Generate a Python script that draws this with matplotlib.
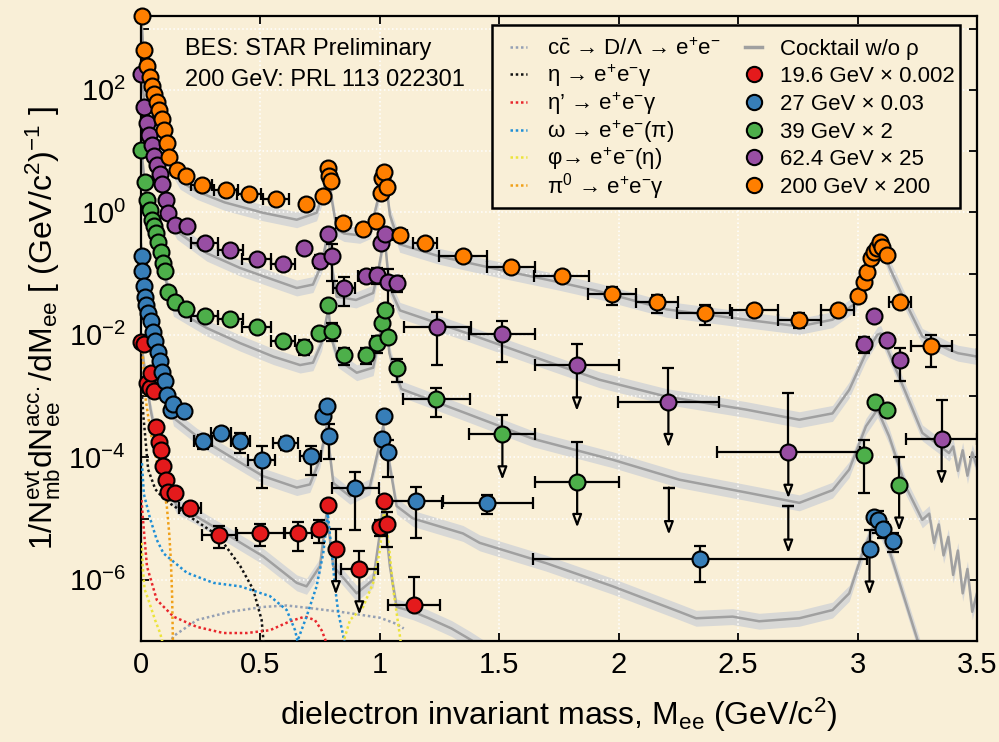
import numpy as np
import matplotlib

matplotlib.use("Agg")
import matplotlib.pyplot as plt
from matplotlib.patches import Rectangle
from matplotlib.ticker import FixedLocator, FuncFormatter, NullLocator

# measured dielectron yields (already multiplied by the legend scale factors)
# columns: mass, yield, mass bin half-width, relative y error, upper-limit flag
m_19 = [0.001, 0.013, 0.024, 0.038, 0.043, 0.055, 0.063, 0.076, 0.084, 0.094, 0.105, 0.115, 0.143,
        0.206, 0.327, 0.498, 0.658, 0.745, 0.784, 0.816, 0.914, 1.000, 1.017, 1.030, 1.143]
y_19 = [7.5e-3, 7.0e-3, 1.66e-3, 1.35e-3, 2.4e-3, 1.22e-3, 3.1e-4, 1.8e-4, 1.3e-4, 7.3e-5, 4.3e-5, 2.7e-5, 2.6e-5,
        1.48e-5, 5.4e-6, 5.9e-6, 5.9e-6, 6.7e-6, 1.67e-5, 3.2e-6, 1.5e-6, 7.4e-6, 1.9e-5, 8.0e-6, 3.8e-7]
dx_19 = [0] * 13 + [0.045, 0.073, 0.100, 0.056, 0, 0, 0, 0.077, 0, 0, 0, 0.107]
dy_19 = [0] * 13 + [0.1, 0.4, 0.4, 0.5, 0.4, 0.15, 1.07, 0.94, 0.3, 0.1, 0.57, 1.97]
lim_19 = [0] * 19 + [1, 1, 0, 0, 0, 1]

m_27 = [0.004, 0.006, 0.012, 0.018, 0.022, 0.030, 0.040, 0.050, 0.060, 0.070, 0.080, 0.090, 0.100, 0.110,
        0.125, 0.136, 0.180, 0.259, 0.335, 0.415, 0.505, 0.606, 0.710, 0.763, 0.780, 0.788, 0.898, 1.010,
        1.018, 1.035, 1.150, 1.450, 2.340, 3.050, 3.069, 3.087, 3.108, 3.149]
y_27 = [0.19, 0.108, 0.063, 0.042, 0.031, 0.0226, 0.0165, 0.0113, 0.0078, 0.0053, 0.0037, 0.0025, 1.73e-3,
        1.05e-3, 6.0e-4, 7.4e-4, 5.6e-4, 1.82e-4, 2.5e-4, 1.82e-4, 9.1e-5, 1.74e-4, 1.03e-4, 4.8e-4, 6.8e-4,
        2.2e-4, 3.2e-5, 2.0e-4, 4.8e-4, 1.2e-4, 1.9e-5, 1.8e-5, 2.2e-6, 3.16e-6, 1.05e-5, 9.5e-6, 6.8e-6, 4.3e-6]
dx_27 = [0] * 17 + [0.038, 0.04, 0.04, 0.055, 0.052, 0.045, 0, 0, 0, 0.1, 0, 0, 0, 0.115, 0.19, 0.7,
                    0, 0, 0, 0, 0]
dy_27 = [0] * 17 + [0.25, 0.2, 0.35, 0.65, 0.25, 0.5, 0, 0, 0.57, 0.8, 0, 0, 0.6, 0.75, 0.34, 0.59,
                    1.07, 0, 0.4, 0.3, 0.35]
lim_27 = [0] * 33 + [1, 0, 0, 0, 0]

m_39 = [0.000, 0.017, 0.027, 0.036, 0.045, 0.055, 0.064, 0.073, 0.084, 0.094, 0.102, 0.115, 0.143, 0.188,
        0.266, 0.373, 0.484, 0.593, 0.684, 0.745, 0.784, 0.798, 0.850, 0.940, 0.990, 1.007, 1.021, 1.035,
        1.073, 1.237, 1.513, 1.826, 3.025, 3.072, 3.125, 3.174]
y_39 = [10.5, 3.07, 1.6, 1.1, 0.755, 0.59, 0.46, 0.333, 0.224, 0.148, 0.111, 0.049, 0.034, 0.026,
        0.020, 0.018, 0.0132, 0.0078, 0.0064, 0.0107, 0.031, 0.0116, 0.0046, 0.0047, 0.0073, 0.0158, 0.0257,
        0.0091, 2.86e-3, 9.0e-4, 2.4e-4, 4.0e-5, 1.1e-4, 8.1e-4, 5.8e-4, 3.5e-5]
dx_39 = [0] * 14 + [0.056, 0.052, 0.06, 0.05] + [0] * 11 + [0.14, 0.138, 0.176] + [0] * 4
dy_39 = [0] * 18 + [0.28, 0, 0, 0.33, 0.3, 0.3, 0.3, 0, 0, 0.2, 0.4, 0.5, 1.04, 3.5, 0.76, 0, 0, 1.87]
lim_39 = [0] * 30 + [1, 1, 0, 0, 0, 1]
# 39 GeV bins with only an upper limit and no central point
m_39_ul = [2.21, 2.71]
top_39_ul = [3.2e-5, 1.6e-5]

m_62 = [0.002, 0.013, 0.025, 0.034, 0.045, 0.056, 0.069, 0.080, 0.090, 0.105, 0.115, 0.143, 0.192,
        0.266, 0.373, 0.484, 0.596, 0.684, 0.749, 0.784, 0.798, 0.850, 0.940, 0.990, 1.004, 1.021, 1.035,
        1.073, 1.241, 1.513, 1.825, 2.208, 2.710, 3.025, 3.069, 3.122, 3.177, 3.352]
y_62 = [182, 52, 28.6, 18.4, 12.3, 8.3, 5.97, 4.26, 2.92, 1.6, 0.97, 0.62, 0.60,
        0.314, 0.244, 0.174, 0.142, 0.26, 0.162, 0.44, 0.19, 0.058, 0.09, 0.095, 0.31, 0.44, 0.074,
        0.07, 0.0132, 0.0103, 0.0032, 8.1e-4, 1.2e-4, 0.0071, 0.0204, 0.0083, 0.0039, 2.0e-4]
dx_62 = [0] * 13 + [0.056, 0.052, 0.06, 0.05] + [0] * 4 + [0.045, 0.03, 0] + [0] * 4 \
    + [0.14, 0.138, 0.176, 0.21, 0.30] + [0, 0, 0, 0, 0.15]
dy_62 = [0] * 17 + [0, 0.25, 0, 0.6] + [0.5, 0.2, 0.3] + [0, 0, 0.6, 0.3] \
    + [0.76, 0.65, 1.2, 2.5, 8.2] + [0.3, 0, 0, 0.55, 3.3]
lim_62 = [0] * 30 + [1, 1, 1] + [0, 0, 0, 0, 1]

m_200 = [0.005, 0.013, 0.027, 0.036, 0.045, 0.055, 0.066, 0.076, 0.086, 0.097, 0.108, 0.119, 0.150, 0.189,
         0.254, 0.355, 0.454, 0.565, 0.689, 0.763, 0.781, 0.788, 0.795, 0.847, 0.928, 0.982, 1.003, 1.010,
         1.017, 1.028, 1.084, 1.188, 1.348, 1.550, 1.762, 1.971, 2.161, 2.360, 2.568, 2.756, 2.916, 3.003,
         3.025, 3.041, 3.058, 3.069, 3.083, 3.094, 3.104, 3.122, 3.177, 3.309, 3.600]
y_200 = [1630, 450, 240, 161, 116, 85, 63, 47, 33.6, 21.7, 13.5, 8.0, 4.9, 3.9,
         2.74, 2.27, 2.0, 1.66, 1.34, 1.86, 5.25, 3.85, 3.18, 0.68, 0.53, 0.73, 2.1, 3.6,
         4.47, 2.63, 0.43, 0.31, 0.195, 0.126, 0.09, 0.046, 0.034, 0.0226, 0.025, 0.0176, 0.025, 0.043,
         0.074, 0.106, 0.179, 0.224, 0.26, 0.333, 0.275, 0.197, 0.034, 0.0065, 0.0048]
dx_200 = [0] * 14 + [0.045, 0.05, 0.05, 0.055] + [0] * 5 + [0.03, 0, 0] + [0] * 4 + [0.03, 0.05] \
    + [0.1, 0.1, 0.115, 0.1, 0.087, 0.115, 0.1, 0.09, 0.07] + [0] * 9 + [0.045, 0.087, 0.1]
dy_200 = [0] * 23 + [0.15, 0.2, 0.2] + [0] * 6 + [0, 0, 0, 0.33, 0.33, 0.35, 0, 0.28, 0] \
    + [0] * 9 + [0, 0.55, 0]
lim_200 = [0] * 53

# hadronic cocktails without rho, same scale factors as the data
cm_19 = [0.0, 0.02, 0.04, 0.06, 0.08, 0.10, 0.12, 0.15, 0.234, 0.373, 0.512, 0.652, 0.693, 0.749,
         0.777, 0.805, 0.903, 0.972, 1.0, 1.014, 1.042, 1.07, 1.139, 1.2, 1.3, 1.38, 1.45]
cv_19 = [0.008, 0.002, 6e-4, 2.5e-4, 1.2e-4, 5e-5, 2.8e-5, 1.6e-5, 1.07e-5, 5.1e-6, 2.4e-6, 8.9e-7, 7.8e-7,
         1.66e-6, 1.23e-5, 1.66e-6, 6.0e-7, 1.0e-6, 5.7e-6, 1.78e-5, 1.66e-6, 3.6e-7, 3.0e-7, 2.4e-7,
         1.6e-7, 1.05e-7, 7e-8]
cm_27 = [0.0, 0.01, 0.03, 0.05, 0.07, 0.09, 0.11, 0.136, 0.234, 0.373, 0.512, 0.652, 0.707, 0.749,
         0.777, 0.805, 0.875, 0.958, 0.993, 1.014, 1.042, 1.07, 1.139, 1.348, 1.418, 1.697, 1.975, 2.254,
         2.324, 2.477, 2.588, 2.756, 2.895, 2.965, 3.02, 3.077, 3.132, 3.202, 3.26]
cv_27 = [0.3, 0.1, 0.025, 0.011, 0.0055, 0.0028, 0.0012, 4.4e-4, 2.2e-4, 1.03e-4, 4.9e-5, 3.2e-5, 3.6e-5,
         9.1e-5, 3.2e-4, 3.8e-5, 2.3e-5, 3.3e-5, 1.3e-4, 3.2e-4, 7.1e-5, 1.6e-5, 1.0e-5, 5.7e-6, 4.0e-6,
         1.86e-6, 7.8e-7, 3.0e-7, 2.35e-7, 2.5e-7, 2.1e-7, 2.35e-7, 3.2e-7, 6.0e-7, 2.7e-6, 9.5e-6, 3.1e-6,
         4.2e-7, 8e-8]
cm_39 = [0.0, 0.02, 0.04, 0.06, 0.08, 0.10, 0.12, 0.136, 0.275, 0.415, 0.554, 0.666, 0.72, 0.756,
         0.784, 0.80, 0.826, 0.903, 0.972, 0.995, 1.021, 1.04, 1.056, 1.09, 1.362, 1.641, 1.975, 2.254,
         2.547, 2.756, 2.895, 2.965, 3.035, 3.083, 3.132, 3.202, 3.271, 3.30, 3.32, 3.34, 3.36, 3.38,
         3.40, 3.42, 3.44, 3.46, 3.48, 3.5]
cv_39 = [12, 2.0, 0.8, 0.4, 0.18, 0.09, 0.045, 0.027, 0.0129, 0.0073, 0.0044, 0.0032, 0.0035, 0.0073,
         0.026, 0.008, 0.0039, 0.0024, 0.0029, 0.008, 0.026, 0.005, 0.003, 0.0013, 5.2e-4, 2.0e-4, 9.1e-5,
         4.3e-5, 2.6e-5, 1.8e-5, 2.9e-5, 6.3e-5, 3.2e-4, 6.0e-4, 2.2e-4, 3.3e-5, 9.5e-6, 1.2e-5, 4e-6,
         8e-6, 2.5e-6, 5e-6, 1.2e-6, 3e-6, 6e-7, 1.5e-6, 3e-7, 6e-7]
cm_62 = [0.0, 0.02, 0.05, 0.08, 0.10, 0.12, 0.15, 0.275, 0.415, 0.554, 0.652, 0.72, 0.756, 0.782,
         0.80, 0.819, 0.90, 0.972, 0.995, 1.019, 1.04, 1.084, 1.362, 1.641, 1.92, 2.199, 2.533, 2.756,
         2.895, 2.965, 3.035, 3.083, 3.097, 3.132, 3.202, 3.271, 3.383, 3.40, 3.42, 3.44, 3.46, 3.48, 3.5]
cv_62 = [200, 40, 9, 3.5, 1.5, 0.8, 0.49, 0.215, 0.123, 0.079, 0.058, 0.066, 0.139, 0.45,
         0.12, 0.042, 0.037, 0.048, 0.12, 0.42, 0.06, 0.025, 0.0107, 0.0044, 0.00184, 9.8e-4, 6.0e-4,
         4.1e-4, 5.2e-4, 1.26e-3, 5.0e-3, 0.01, 0.0105, 5e-3, 1.12e-3, 2.5e-4, 1.17e-4, 1.5e-4, 6e-5,
         1.3e-4, 5e-5, 1.2e-4, 7e-5]
cm_200 = [0.0, 0.01, 0.03, 0.05, 0.07, 0.09, 0.11, 0.13, 0.164, 0.234, 0.35, 0.511, 0.652, 0.735,
          0.762, 0.782, 0.80, 0.82, 0.85, 0.916, 0.96, 0.995, 1.019, 1.042, 1.083, 1.25, 1.502, 1.75,
          1.92, 2.2, 2.533, 2.756, 2.895, 2.993, 3.041, 3.083, 3.097, 3.132, 3.202, 3.271, 3.383, 3.42,
          3.46, 3.5]
cv_200 = [2000, 420, 190, 95, 48, 24, 11, 5.5, 3.2, 2.19, 1.45, 0.98, 0.755, 0.98,
          2.0, 5.3, 1.5, 0.52, 0.45, 0.42, 0.5, 1.8, 4.9, 0.9, 0.30, 0.19, 0.115, 0.072,
          0.051, 0.026, 0.0176, 0.0137, 0.0176, 0.033, 0.15, 0.295, 0.30, 0.13, 0.033, 0.0094, 0.0057,
          0.0050, 0.0047, 0.0044]

# individual cocktail sources for 19.6 GeV
ccbar_m = [0.12, 0.136, 0.234, 0.373, 0.512, 0.61, 0.72, 0.86, 1.0, 1.07, 1.1]
ccbar_v = [9e-8, 1.2e-7, 2.2e-7, 3.0e-7, 3.6e-7, 3.8e-7, 3.4e-7, 2.9e-7, 2.4e-7, 1.9e-7, 1.6e-7]
eta_m = [0.003, 0.01, 0.03, 0.06, 0.1, 0.2, 0.3, 0.345, 0.416, 0.47, 0.505, 0.515]
eta_v = [1.2e-3, 4.7e-4, 6.3e-5, 3.0e-5, 2.0e-5, 1.1e-5, 6e-6, 4e-6, 1.66e-6, 6.9e-7, 2.2e-7, 8e-8]
etap_m = [0.002, 0.01, 0.025, 0.066, 0.136, 0.234, 0.345, 0.443, 0.54, 0.624, 0.686, 0.728, 0.756, 0.77, 0.78]
etap_v = [2e-5, 8e-6, 1.65e-6, 4.7e-7, 2.5e-7, 1.7e-7, 1.35e-7, 1.35e-7, 1.5e-7, 2.1e-7, 2.5e-7, 2.2e-7,
          1.5e-7, 1.1e-7, 8e-8]
omega_m = [0.004, 0.012, 0.038, 0.066, 0.094, 0.192, 0.303, 0.415, 0.54, 0.61, 0.645, 0.655, 0.693, 0.735,
           0.763, 0.782, 0.80, 0.812, 0.826, 0.847, 0.855]
omega_v = [8e-5, 2.5e-5, 1.0e-5, 4.5e-6, 2.7e-6, 1.3e-6, 8.9e-7, 7.8e-7, 5.4e-7, 3.2e-7, 1.5e-7, 1.0e-7,
           2.5e-7, 7.8e-7, 2.7e-6, 1.2e-5, 2.5e-6, 7.8e-7, 2.9e-7, 1.2e-7, 8e-8]
phi_m = [0.003, 0.008, 0.015, 0.031, 0.059, 0.08, 0.095, np.nan, 0.845, 0.875, 0.93, 0.972, 1.0, 1.019,
         1.04, 1.056, 1.07, 1.084, 1.09]
phi_v = [4e-6, 1.5e-6, 7e-7, 4.7e-7, 2.2e-7, 1.35e-7, 8e-8, np.nan, 9e-8, 2.2e-7, 3.6e-7, 8.9e-7, 3e-6,
         1.5e-5, 3e-6, 6.9e-7, 2.9e-7, 1.2e-7, 8e-8]
pi0_m = [0.003, 0.006, 0.018, 0.04, 0.06, 0.08, 0.10, 0.108, 0.118, 0.125, 0.13, 0.134]
pi0_v = [8e-3, 5.8e-3, 9.8e-4, 2.5e-4, 1.1e-4, 5e-5, 2.3e-5, 1.6e-5, 5.8e-6, 2.1e-6, 6e-7, 8e-8]

source_labels = [r"c$\bar{c}$ → D/Λ → e$^{+}$e$^{-}$", r"η → e$^{+}$e$^{-}$γ", r"η’ → e$^{+}$e$^{-}$γ",
                 r"ω → e$^{+}$e$^{-}$(π)", r"φ→ e$^{+}$e$^{-}$(η)", r"π$^{0}$ → e$^{+}$e$^{-}$γ"]
energy_labels = ["19.6 GeV × 0.002", "27 GeV × 0.03", "39 GeV × 2", "62.4 GeV × 25", "200 GeV × 200"]

BG = "#f9efd7"
plt.rcParams["font.family"] = ["Liberation Sans", "DejaVu Sans"]
plt.rcParams["mathtext.fontset"] = "custom"
plt.rcParams["mathtext.rm"] = "Liberation Sans"
plt.rcParams["mathtext.default"] = "regular"

fig = plt.figure(figsize=(9.99, 7.42), dpi=100, facecolor=BG)
ax = fig.add_axes([141 / 999, 1 - 641 / 742, 836 / 999, 625 / 742], facecolor=BG)
ax.set_yscale("log")

band = 10 ** 0.13
for cm, cv in [(cm_19, cv_19), (cm_27, cv_27), (cm_39, cv_39), (cm_62, cv_62), (cm_200, cv_200)]:
    cv = np.asarray(cv)
    ax.fill_between(cm, cv / band, cv * band, color="#d8d8d6", lw=0, zorder=1)
    ax.plot(cm, cv, color="#a0a0a0", lw=1.8, zorder=2)

src_colors = ["#95a0b4", "#111111", "#e8262c", "#1f8fd6", "#ece43a", "#f0a018"]
dotted = (0, (1, 1.1))
for (sm, sv), c in zip([(ccbar_m, ccbar_v), (eta_m, eta_v), (etap_m, etap_v), (omega_m, omega_v),
                        (phi_m, phi_v), (pi0_m, pi0_v)], src_colors):
    ax.plot(sm, sv, color=c, lw=1.8, ls=dotted, zorder=3)

data_colors = ["#e41a1c", "#377eb8", "#4daf4a", "#984ea3", "#ff7f00"]
series = [(m_19, y_19, dx_19, dy_19, lim_19), (m_27, y_27, dx_27, dy_27, lim_27),
          (m_39, y_39, dx_39, dy_39, lim_39), (m_62, y_62, dx_62, dy_62, lim_62),
          (m_200, y_200, dx_200, dy_200, lim_200)]
arrow = dict(arrowstyle="-|>,head_length=0.75,head_width=0.28", ec="black", fc=BG, lw=1.6,
             shrinkA=0, shrinkB=0)
for (m, y, dx, dy, lim), c in zip(series, data_colors):
    m, y, dx, dy = map(np.asarray, (m, y, dx, dy))
    lim = np.asarray(lim, bool)
    lo = np.where(lim, 0.0, dy * y)
    ax.errorbar(m, y, xerr=dx, yerr=[lo, dy * y], fmt="none", ecolor="black", elinewidth=1.6,
                capsize=4, capthick=1.6, zorder=4)
    for xi, yi in zip(m[lim], y[lim]):
        ax.annotate("", xy=(xi, yi * 10 ** -0.75), xytext=(xi, yi), arrowprops=arrow, zorder=4)
    keep = m <= 3.5
    ax.plot(m[keep], y[keep], "o", ms=11.5, mfc=c, mec="black", mew=1.5, clip_on=False, zorder=5)

ax.errorbar(m_39_ul, top_39_ul, yerr=0, fmt="none", ecolor="black", capsize=4, capthick=1.6, zorder=4)
for xi, yi in zip(m_39_ul, top_39_ul):
    ax.annotate("", xy=(xi, yi * 10 ** -0.77), xytext=(xi, yi), arrowprops=arrow, zorder=4)

ax.set_xlim(0, 3.5)
ax.set_ylim(1e-7, 1.6e3)
ax.set_xticks(np.arange(0, 3.51, 0.5))
ax.xaxis.set_major_formatter(FuncFormatter(lambda v, _: f"{v:g}"))
ax.yaxis.set_major_locator(FixedLocator([10.0 ** k for k in range(-7, 4)]))
ax.yaxis.set_minor_locator(NullLocator())
ax.yaxis.set_major_formatter(FuncFormatter(
    lambda v, _: f"$10^{{{int(round(np.log10(v)))}}}$" if round(np.log10(v)) % 2 == 0 else ""))
ax.tick_params(which="both", direction="in", top=True, right=True, length=6, width=1.3, labelsize=21)
ax.tick_params(axis="y", pad=11)
ax.tick_params(axis="x", pad=7)
for sp in ax.spines.values():
    sp.set_linewidth(1.6)
ax.grid(True, which="major", color="white", ls=":", lw=1.1, zorder=0)

ax.set_xlabel(r"dielectron invariant mass, M$_{ee}$ (GeV/c$^{2}$)", fontsize=23, labelpad=12)
ax.set_ylabel(r"1/N$^{evt}_{mb}$dN$^{acc.}_{ee}$/dM$_{ee}$ [ (GeV/c$^{2}$)$^{-1}$ ]", fontsize=23,
              labelpad=4)

ax.text(0.053, 0.947, "BES: STAR Preliminary", transform=ax.transAxes, fontsize=17, va="center")
ax.text(0.053, 0.898, "200 GeV: PRL 113 022301", transform=ax.transAxes, fontsize=17, va="center")

# two-column key drawn by hand so both columns share the same row pitch
ax.add_patch(Rectangle((0.42, 0.693), 0.56, 0.293, transform=ax.transAxes, fc=BG, ec="black",
                       lw=1.8, zorder=10, clip_on=False))
row_y = 0.951 - 0.0443 * np.arange(6)
baseline = 0.0128
for yr, lab, c in zip(row_y, source_labels, src_colors):
    ax.plot([0.4414, 0.4617], [yr, yr], transform=ax.transAxes, color=c, lw=1.8, ls=dotted,
            clip_on=False, zorder=11)
    ax.text(0.4853, yr - baseline, lab, transform=ax.transAxes, fontsize=16, va="baseline", zorder=11)
ax.plot([0.7225, 0.7428], [row_y[0], row_y[0]], transform=ax.transAxes, color="#a0a0a0", lw=2.5,
        clip_on=False, zorder=11)
ax.text(0.7643, row_y[0] - baseline, "Cocktail w/o ρ", transform=ax.transAxes, fontsize=16,
        va="baseline", zorder=11)
for yr, lab, c in zip(row_y[1:], energy_labels, data_colors):
    ax.plot([0.7327], [yr], "o", transform=ax.transAxes, ms=11, mfc=c, mec="black", mew=1.5,
            clip_on=False, zorder=11)
    ax.text(0.7643, yr - baseline, lab, transform=ax.transAxes, fontsize=16, va="baseline", zorder=11)

fig.savefig("out.png", dpi=100, facecolor=BG)
